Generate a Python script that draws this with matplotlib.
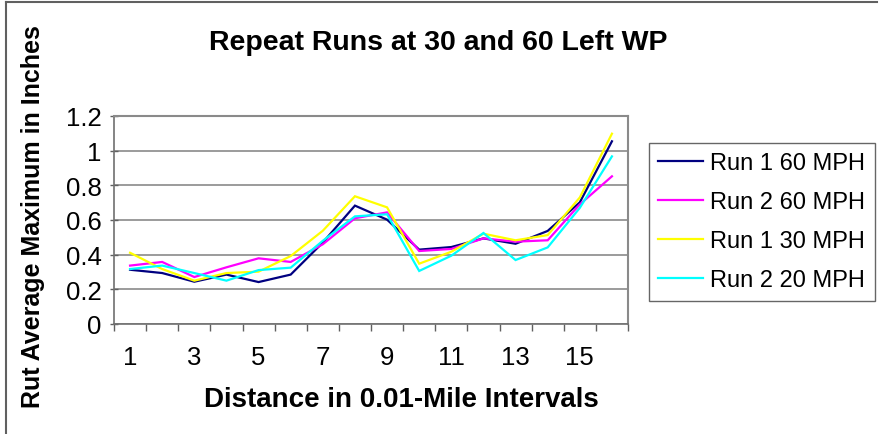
import numpy as np
import matplotlib
matplotlib.use("Agg")
import matplotlib.pyplot as plt
from matplotlib.lines import Line2D

plt.rcParams['font.family'] = ['Liberation Sans', 'DejaVu Sans']

# distance intervals (0.01 mile) and rut values
intervals = np.arange(1, 17)
run1_60 = [0.313, 0.294, 0.244, 0.285, 0.242, 0.285, 0.47, 0.683,
           0.602, 0.429, 0.444, 0.494, 0.463, 0.537, 0.702, 1.054]
run2_60 = [0.337, 0.358, 0.271, 0.327, 0.379, 0.358, 0.46, 0.61,
           0.644, 0.421, 0.433, 0.494, 0.475, 0.483, 0.69, 0.852]
run1_30 = [0.411, 0.317, 0.25, 0.294, 0.302, 0.392, 0.538, 0.737,
           0.673, 0.348, 0.417, 0.521, 0.483, 0.513, 0.73, 1.098]
run2_20 = [0.317, 0.337, 0.294, 0.25, 0.311, 0.325, 0.48, 0.621,
           0.633, 0.306, 0.394, 0.525, 0.369, 0.442, 0.67, 0.967]
labels = ['Run 1 60 MPH', 'Run 2 60 MPH', 'Run 1 30 MPH', 'Run 2 20 MPH']
colors = ['#000080', '#FF00FF', '#FFFF00', '#00FFFF']
xtick_labels = [1, 3, 5, 7, 9, 11, 13, 15]
yticks = [0, 0.2, 0.4, 0.6, 0.8, 1, 1.2]

W, H = 882, 435
fig = plt.figure(figsize=(W / 100, H / 100), dpi=100)
ax = fig.add_axes([114 / W, 1 - 325 / H, 514 / W, 208 / H])

for ys, c, lab in zip([run1_60, run2_60, run1_30, run2_20], colors, labels):
    ax.plot(intervals, ys, color=c, lw=1.6, label=lab, solid_joinstyle='miter')

ax.set_xlim(0.5, 16.5)
ax.set_ylim(0, 1.2)
ax.set_yticks(yticks)
ax.set_yticklabels(['0', '0.2', '0.4', '0.6', '0.8', '1', '1.2'])
ax.set_xticks(xtick_labels)
ax.set_xticklabels([str(v) for v in xtick_labels])
ax.set_xticks(np.arange(0.5, 17, 1), minor=True)
ax.tick_params(axis='x', which='major', length=0, labelsize=18.5, pad=15)
ax.tick_params(axis='x', which='minor', length=5, width=1, color='#606060', direction='out')
ax.tick_params(axis='y', length=6, width=1, color='#606060', direction='inout',
               labelsize=18.5, pad=6)
ax.grid(axis='y', color='#8a8a8a', lw=1.2)
ax.set_axisbelow(True)
for s in ['top', 'right']:
    ax.spines[s].set_color('#8a8a8a')
    ax.spines[s].set_linewidth(1.5)
for s in ['left', 'bottom']:
    ax.spines[s].set_color('#707070')
    ax.spines[s].set_linewidth(1.2)

fig.text(438 / W, 1 - 43 / H, 'Repeat Runs at 30 and 60 Left WP', ha='center', va='center',
         fontsize=20.5, fontweight='bold')
fig.text(401 / W, 1 - 400 / H, 'Distance in 0.01-Mile Intervals', ha='center', va='center',
         fontsize=20, fontweight='bold')
fig.text(33 / W, 1 - 217 / H, 'Rut Average Maximum in Inches', ha='center', va='center',
         rotation=90, fontsize=18, fontweight='bold')

leg = ax.legend(loc='upper left', bbox_to_anchor=(649 / W, 1 - 144 / H),
                bbox_transform=fig.transFigure, borderaxespad=0, fontsize=17,
                frameon=True, fancybox=False, handlelength=1.9, handletextpad=0.3,
                labelspacing=0.72, borderpad=0.4)
leg.get_frame().set_edgecolor('#404040')
leg.get_frame().set_linewidth(1)
for ln in leg.get_lines():
    ln.set_linewidth(1.6)

# chart-area border (top and left visible)
fig.add_artist(Line2D([6 / W, 877 / W], [1 - 3 / H, 1 - 3 / H], color='#606060', lw=1.5,
                      transform=fig.transFigure))
fig.add_artist(Line2D([6 / W, 6 / W], [1 - 3 / H, 0], color='#606060', lw=1.5,
                      transform=fig.transFigure))

fig.savefig('out.png', dpi=100)
